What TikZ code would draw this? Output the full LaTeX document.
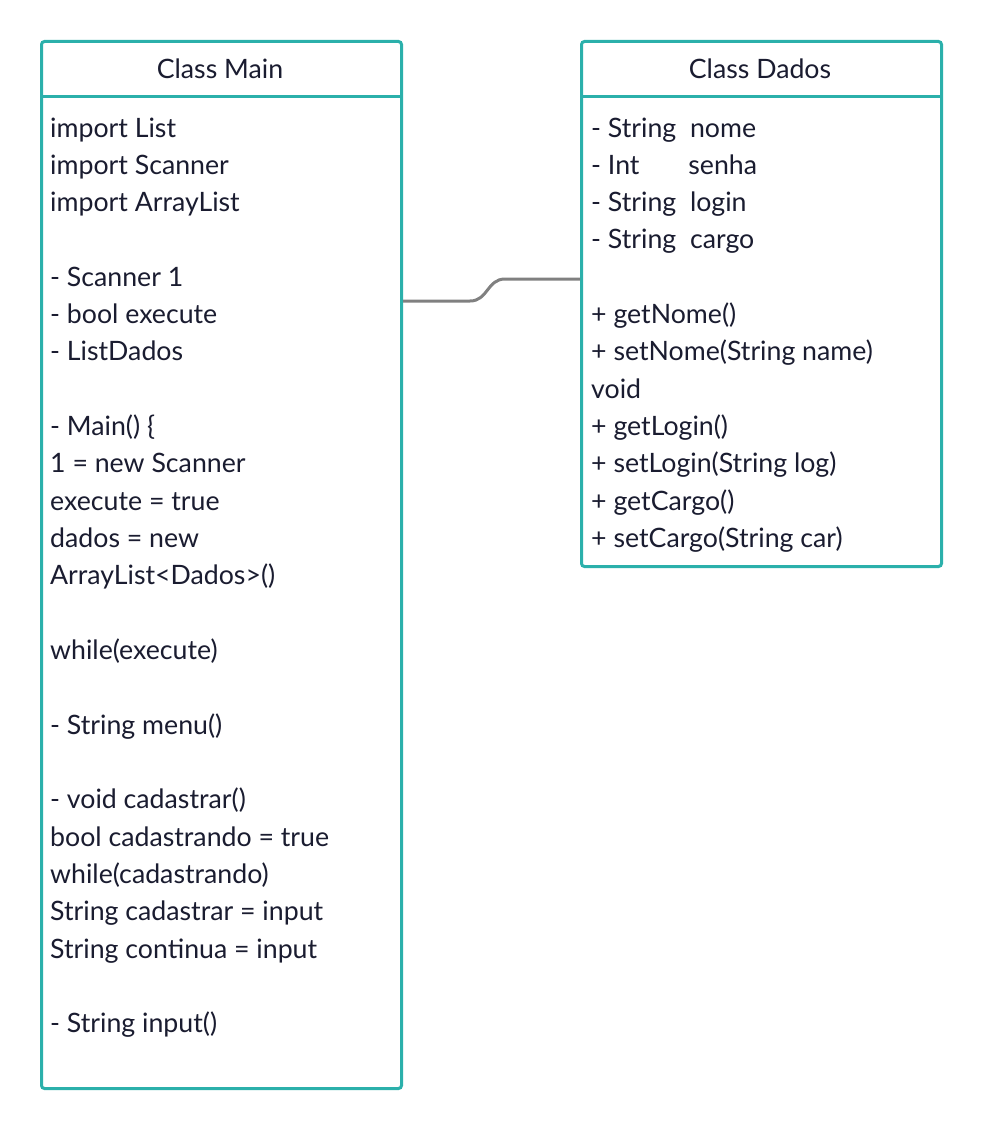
\documentclass[tikz,border=0pt]{standalone}
\usepackage{fontspec}
\setmainfont{Lato}
\definecolor{teal1}{RGB}{43,176,171}
\definecolor{ink}{RGB}{26,28,48}
\definecolor{conn}{RGB}{128,128,128}
\begin{document}
\begin{tikzpicture}[x=1pt,y=-1pt,
  classbox/.style={draw=teal1, line width=3pt, rounded corners=3pt, fill=white, inner sep=0pt, anchor=north west},
  sepline/.style={draw=teal1, line width=3pt},
  title/.style={text=ink, font=\fontsize{26.7}{37.33}\selectfont, inner sep=0pt, anchor=base},
  body/.style={text=ink, font=\fontsize{26.7}{37.33}\selectfont, inner sep=0pt, anchor=base west},
  link/.style={draw=conn, line width=3pt}]
\useasboundingbox (0,0) rectangle (980,1129);
\node[classbox, minimum width=360pt, minimum height=1047pt] (main) at (40,40) {};
\node[classbox, minimum width=360pt, minimum height=525pt] (dados) at (580,40) {};
\draw[sepline] ([yshift=-57pt]main.north west) -- ([yshift=-57pt]main.north east);
\draw[sepline] ([yshift=-57pt]dados.north west) -- ([yshift=-57pt]dados.north east);
\node[title] (mainT) at (220,79) {Class Main};
\node[title] (dadosT) at (760,79) {Class Dados};
\node[body] (mainB) at (50,137) {\parbox[t]{340pt}{\raggedright
import List\\
import Scanner\\
import ArrayList\\
\mbox{}\\
- Scanner 1\\
- bool execute\\
- ListDados\\
\mbox{}\\
- Main() \{\\
1 = new Scanner\\
execute = true\\
dados = new\\
ArrayList<Dados>()\\
\mbox{}\\
while(execute)\\
\mbox{}\\
- String menu()\\
\mbox{}\\
- void cadastrar()\\
bool cadastrando = true\\
while(cadastrando)\\
String cadastrar = input\\
String continua = input\\
\mbox{}\\
- String input()}};
\node[body] (dadosB) at (591,137) {\parbox[t]{340pt}{\raggedright
- String\ \ nome\\
- Int \hspace{42pt}senha\\
- String\ \ login\\
- String\ \ cargo\\
\mbox{}\\
+ getNome()\\
+ setNome(String name)\\
void\\
+ getLogin()\\
+ setLogin(String log)\\
+ getCargo()\\
+ setCargo(String car)}};
\coordinate (bend1) at (470,301);
\coordinate (bend2) at (505,279);
\draw[link] ([yshift=-261pt]main.north east) -- (bend1)
  .. controls (488,301) and (487,279) .. (bend2) -- ([yshift=-239pt]dados.north west);
\end{tikzpicture}
\end{document}
